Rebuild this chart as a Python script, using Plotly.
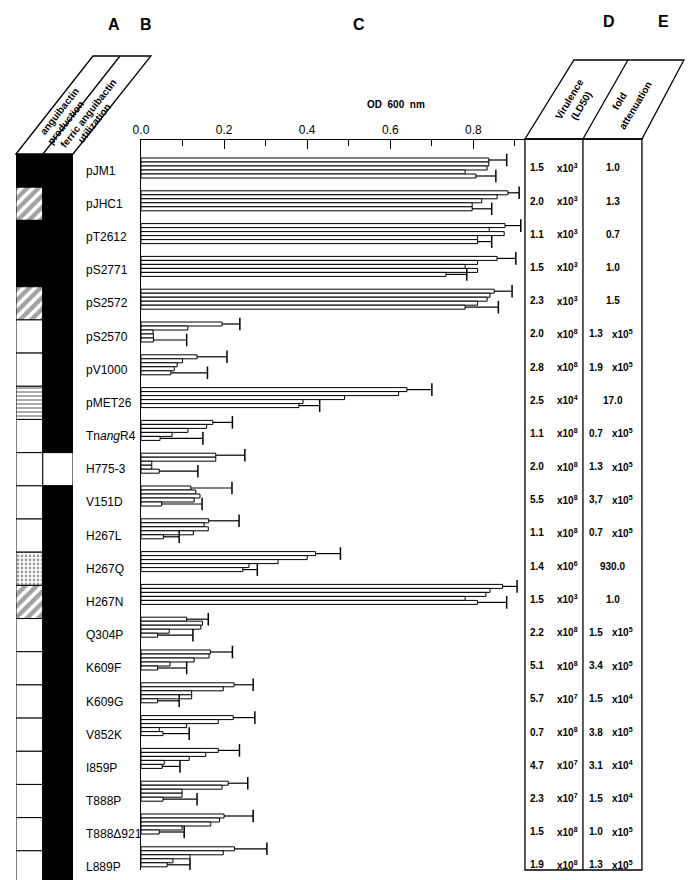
# OD600 growth bars with siderophore phenotype columns and virulence table
import plotly.graph_objects as go

W, H = 694, 880

strains = ["pJM1", "pJHC1", "pT2612", "pS2771", "pS2572", "pS2570", "pV1000",
           "pMET26", "Tn<i>ang</i>R4", "H775-3", "V151D", "H267L", "H267Q",
           "H267N", "Q304P", "K609F", "K609G", "V852K", "I859P", "T888P",
           "T888\u0394921", "L889P"]

# five replicate OD600 readings per strain, error caps on 1st and 5th
od_1 = [0.837, 0.883, 0.876, 0.857, 0.85, 0.195, 0.135, 0.64, 0.173, 0.18, 0.12,
        0.163, 0.42, 0.87, 0.11, 0.167, 0.224, 0.222, 0.186, 0.21, 0.20, 0.225]
od_2 = [0.837, 0.857, 0.838, 0.81, 0.84, 0.113, 0.10, 0.62, 0.158, 0.18, 0.132,
        0.152, 0.40, 0.84, 0.148, 0.164, 0.198, 0.186, 0.156, 0.195, 0.189, 0.198]
od_3 = [0.833, 0.82, 0.874, 0.78, 0.833, 0.029, 0.087, 0.49, 0.113, 0.026, 0.142,
        0.162, 0.33, 0.83, 0.144, 0.128, 0.122, 0.11, 0.116, 0.099, 0.168, 0.118]
od_4 = [0.78, 0.797, 0.81, 0.81, 0.81, 0.03, 0.08, 0.39, 0.075, 0.026, 0.128,
        0.126, 0.26, 0.78, 0.068, 0.07, 0.122, 0.044, 0.056, 0.099, 0.099, 0.077]
od_5 = [0.806, 0.797, 0.81, 0.734, 0.78, 0.03, 0.072, 0.38, 0.046, 0.044, 0.05,
        0.054, 0.245, 0.81, 0.04, 0.04, 0.04, 0.053, 0.051, 0.053, 0.044, 0.063]
cap_1 = [0.88, 0.91, 0.914, 0.902, 0.893, 0.238, 0.207, 0.70, 0.22, 0.25, 0.219,
         0.236, 0.48, 0.905, 0.162, 0.22, 0.27, 0.274, 0.237, 0.257, 0.27, 0.303]
cap_5 = [0.854, 0.844, 0.844, 0.784, 0.86, 0.11, 0.16, 0.43, 0.149, 0.137, 0.147,
         0.092, 0.28, 0.88, 0.125, 0.11, 0.092, 0.116, 0.094, 0.135, 0.104, 0.118]

# column A (anguibactin production) / B (ferric anguibactin utilization)
# k = black, w = white, / = hatched, . = dotted, ~ = wavy
col_a = ["k", "/", "k", "k", "/", "w", "w", "~", "w", "w", "w", "w", ".", "/",
         "w", "w", "w", "w", "w", "w", "w", "w"]
col_b = ["k", "k", "k", "k", "k", "k", "k", "k", "k", "w", "k", "k", "k", "k",
         "k", "k", "k", "k", "k", "k", "k", "k"]

# D: virulence (LD50), E: fold attenuation
ld50_mant = ["1.5", "2.0", "1.1", "1.5", "2.3", "2.0", "2.8", "2.5", "1.1", "2.0",
             "5.5", "1.1", "1.4", "1.5", "2.2", "5.1", "5.7", "0.7", "4.7", "2.3",
             "1.5", "1.9"]
ld50_exp = [3, 3, 3, 3, 3, 8, 8, 4, 8, 8, 8, 8, 6, 3, 8, 8, 7, 8, 7, 7, 8, 8]
fold_mant = ["1.0", "1.3", "0.7", "1.0", "1.5", "1.3", "1.9", "17.0", "0.7", "1.3",
             "3,7", "0.7", "930.0", "1.0", "1.5", "3.4", "1.5", "3.8", "3.1", "1.5",
             "1.0", "1.3"]
fold_exp = [None, None, None, None, None, 5, 5, None, 5, 5, 5, 5, None, None,
            5, 5, 4, 5, 4, 4, 5, 5]


# map reference pixel positions to paper coords (calibrated against renders)
def px(x):
    return max(0.0, (1.0116 * x - 15.2) / W)


def py(y):
    return 1 - (y - 4) / H


FONT = "Liberation Sans, Arial, sans-serif"
N = len(strains)
UNIT = 415.6            # px per OD unit
ROW = 32.8              # px per bar group
BAR_H = 4 / ROW         # bar thickness in group units

fig = go.Figure()

# --- main OD bars ---
series = [od_1, od_2, od_3, od_4, od_5]
for k, vals in enumerate(series):
    ys = [g + (k + 0.5) * BAR_H for g in range(N)]
    fig.add_trace(go.Bar(
        x=vals, y=ys, orientation="h", width=BAR_H,
        marker=dict(color="white", line=dict(color="black", width=1)),
        xaxis="x", yaxis="y", showlegend=False, hoverinfo="x",
    ))

# whiskers + caps for first and last replicate
for k, vals, caps in [(0, od_1, cap_1), (4, od_5, cap_5)]:
    wx, wy = [], []
    for g in range(N):
        yc = g + (k + 0.5) * BAR_H
        wx += [vals[g], caps[g], None]
        wy += [yc, yc, None]
    fig.add_trace(go.Scatter(
        x=wx, y=wy, mode="lines", line=dict(color="black", width=1.2),
        xaxis="x", yaxis="y", showlegend=False, hoverinfo="skip",
    ))
    fig.add_trace(go.Scatter(
        x=caps, y=[g + (k + 0.5) * BAR_H for g in range(N)], mode="markers",
        marker=dict(symbol="line-ns", size=9, line=dict(color="black", width=1.5)),
        xaxis="x", yaxis="y", showlegend=False, hoverinfo="skip",
    ))

# --- phenotype columns A / B ---
A_SPLIT = 0.47
pat = {"k": ("black", "", 6, 0.3), "w": ("white", "", 6, 0.3),
       "/": ("white", "/", 8, 0.55), ".": ("white", ".", 4, 0.4),
       "~": ("white", "-", 4, 0.45)}
for col, base, width in [(col_a, 0, A_SPLIT), (col_b, A_SPLIT, 1 - A_SPLIT)]:
    fig.add_trace(go.Bar(
        x=[width] * N, base=[base] * N, y=[r + 0.5 for r in range(N)],
        orientation="h", width=1,
        marker=dict(
            color=[pat[c][0] for c in col],
            line=dict(color="black", width=1),
            pattern=dict(shape=[pat[c][1] for c in col], fgcolor="black",
                         size=[pat[c][2] for c in col],
                         solidity=[pat[c][3] for c in col]),
        ),
        xaxis="x2", yaxis="y2", showlegend=False, hoverinfo="skip",
    ))

fig.update_layout(
    width=W, height=H, margin=dict(l=0, r=0, t=0, b=0),
    paper_bgcolor="white", plot_bgcolor="white", barmode="overlay",
    font=dict(family=FONT, color="black", size=12),
    xaxis=dict(
        domain=[px(140), px(523)], range=[0, (523 - 140) / UNIT], anchor="y",
        side="top", showline=True, linecolor="black", linewidth=1.2,
        showgrid=False, zeroline=False, ticks="inside", ticklen=9,
        tickwidth=1.2, tickcolor="black",
        tickvals=[0, 0.2, 0.4, 0.6, 0.8],
        ticktext=["0.0", "0.2", "0.4", "0.6", "0.8"],
        tickfont=dict(size=12),
        minor=dict(tickvals=[0.1, 0.3, 0.5, 0.7, 0.9], ticks="inside",
                   ticklen=6, tickwidth=1.2, tickcolor="black"),
    ),
    yaxis=dict(
        domain=[py(866), py(136)],
        range=[(866 - 154) / ROW, (136 - 154) / ROW], anchor="x",
        showline=True, linecolor="black", linewidth=1.2, showgrid=False,
        zeroline=False, showticklabels=False, ticks="",
    ),
    xaxis2=dict(domain=[px(15), px(72)], range=[0, 1], anchor="y2",
                visible=False),
    yaxis2=dict(domain=[py(880), py(150)], range=[N, 0], anchor="x2",
                visible=False),
)

# --- header shapes ---
line = dict(color="black", width=1.3)


def seg(x0, y0, x1, y1):
    fig.add_shape(type="line", xref="paper", yref="paper",
                  x0=px(x0), y0=py(y0), x1=px(x1), y1=py(y1), line=line)


def poly(pts):
    path = "M " + " L ".join(f"{px(a)},{py(b)}" for a, b in pts) + " Z"
    fig.add_shape(type="path", xref="paper", yref="paper", path=path, line=line)


poly([(15, 150), (92, 52), (150, 52), (72, 150)])
seg(42, 150, 119, 52)

fig.add_shape(type="rect", xref="paper", yref="paper", x0=px(524), x1=px(641),
              y0=py(866), y1=py(135), line=line)
seg(582, 135, 582, 866)
poly([(524, 135), (573, 56), (683, 56), (641, 135)])
seg(582, 135, 627, 56)


# --- text ---
def note(text, x, y, size=10, bold=True, angle=0, anchor="center", yref="paper"):
    fig.add_annotation(
        text=f"<b>{text}</b>" if bold else text, x=px(x),
        y=py(y) if yref == "paper" else y, xref="paper", yref=yref,
        showarrow=False, textangle=angle, xanchor=anchor, yanchor="middle",
        font=dict(family=FONT, size=size, color="black"),
    )


for letter, x, y in [("A", 113, 20), ("B", 145, 20), ("C", 358, 20),
                     ("D", 608, 18), ("E", 663, 18)]:
    note(letter, x, y, size=16)

for text, x, y in [("anguibactin", 58, 107), ("production", 65, 119),
                   ("ferric anguibactin", 87, 109), ("utilization", 94, 119)]:
    note(text, x, y, size=10, angle=-52)
for text, x, y in [("Virulence", 569, 95), ("(LD50)", 580, 101),
                   ("fold", 618, 97), ("attenuation", 634, 101)]:
    note(text, x, y, size=10, angle=-59)

note("OD\u00a0\u00a0600\u00a0\u00a0nm", 395, 100, size=10)

for r, name in enumerate(strains):
    note(name, 83, r + 0.5, size=12, bold=False, anchor="left", yref="y2")
    note(ld50_mant[r], 527, r + 0.42, anchor="left", yref="y2")
    note(f"x10<sup>{ld50_exp[r]}</sup>", 554, r + 0.42, anchor="left", yref="y2")
    if fold_exp[r] is None:
        note(fold_mant[r], 612, r + 0.42, yref="y2")
    else:
        note(fold_mant[r], 586, r + 0.42, anchor="left", yref="y2")
        note(f"x10<sup>{fold_exp[r]}</sup>", 609, r + 0.42, anchor="left", yref="y2")

fig.write_html("out.html")
